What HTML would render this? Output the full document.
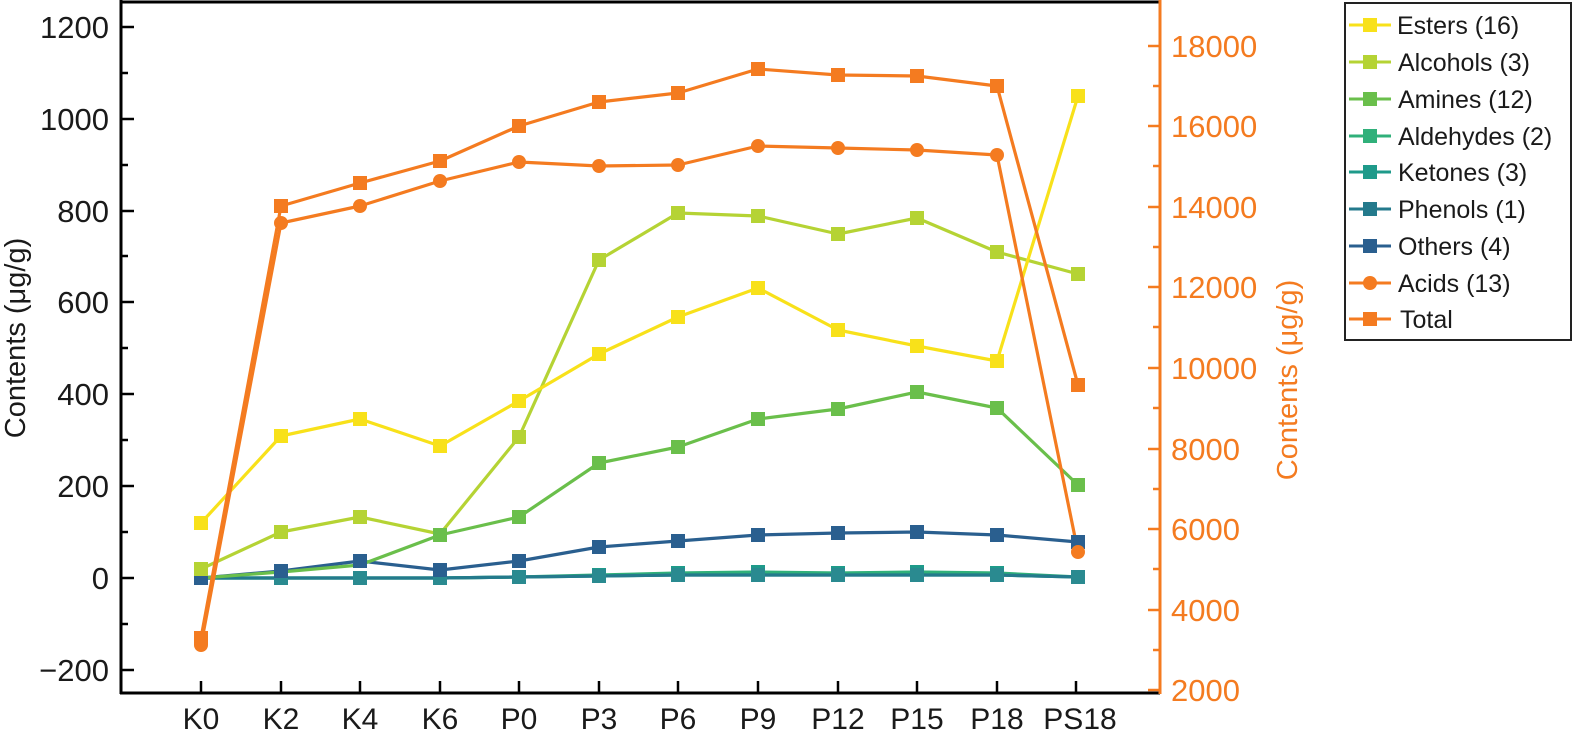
<!DOCTYPE html>
<html><head><meta charset="utf-8"><style>body{margin:0;background:#fff}svg{display:block}text{font-family:"Liberation Sans",sans-serif}</style></head><body>
<svg width="1573" height="735" viewBox="0 0 1573 735">
<line x1="121" y1="2" x2="1160" y2="2" stroke="#000" stroke-width="3"/>
<line x1="121" y1="0" x2="121" y2="694" stroke="#000" stroke-width="3"/>
<line x1="120" y1="693" x2="1160" y2="693" stroke="#000" stroke-width="3"/>
<line x1="1160" y1="0" x2="1160" y2="694" stroke="#f47b20" stroke-width="3"/>
<g stroke="#000" stroke-width="2.5">
<line x1="121" y1="27" x2="134" y2="27"/><line x1="121" y1="119" x2="134" y2="119"/><line x1="121" y1="211" x2="134" y2="211"/><line x1="121" y1="302" x2="134" y2="302"/><line x1="121" y1="394" x2="134" y2="394"/><line x1="121" y1="486" x2="134" y2="486"/><line x1="121" y1="578" x2="134" y2="578"/><line x1="121" y1="670" x2="134" y2="670"/>
<line x1="121" y1="73" x2="128" y2="73"/><line x1="121" y1="165" x2="128" y2="165"/><line x1="121" y1="256" x2="128" y2="256"/><line x1="121" y1="348" x2="128" y2="348"/><line x1="121" y1="440" x2="128" y2="440"/><line x1="121" y1="532" x2="128" y2="532"/><line x1="121" y1="624" x2="128" y2="624"/>
<line x1="201" y1="693" x2="201" y2="681"/><line x1="281" y1="693" x2="281" y2="681"/><line x1="360" y1="693" x2="360" y2="681"/><line x1="440" y1="693" x2="440" y2="681"/><line x1="519" y1="693" x2="519" y2="681"/><line x1="599" y1="693" x2="599" y2="681"/><line x1="678" y1="693" x2="678" y2="681"/><line x1="758" y1="693" x2="758" y2="681"/><line x1="838" y1="693" x2="838" y2="681"/><line x1="917" y1="693" x2="917" y2="681"/><line x1="997" y1="693" x2="997" y2="681"/><line x1="1076" y1="693" x2="1076" y2="681"/>
</g>
<g stroke="#f47b20" stroke-width="2.5">
<line x1="1160" y1="46" x2="1148" y2="46"/><line x1="1160" y1="126" x2="1148" y2="126"/><line x1="1160" y1="207" x2="1148" y2="207"/><line x1="1160" y1="287" x2="1148" y2="287"/><line x1="1160" y1="368" x2="1148" y2="368"/><line x1="1160" y1="449" x2="1148" y2="449"/><line x1="1160" y1="529" x2="1148" y2="529"/><line x1="1160" y1="610" x2="1148" y2="610"/><line x1="1160" y1="690" x2="1148" y2="690"/>
<line x1="1160" y1="86" x2="1153" y2="86"/><line x1="1160" y1="166" x2="1153" y2="166"/><line x1="1160" y1="247" x2="1153" y2="247"/><line x1="1160" y1="327" x2="1153" y2="327"/><line x1="1160" y1="408" x2="1153" y2="408"/><line x1="1160" y1="489" x2="1153" y2="489"/><line x1="1160" y1="569" x2="1153" y2="569"/><line x1="1160" y1="650" x2="1153" y2="650"/>
</g>
<g font-size="31" text-anchor="end" fill="#1a1a1a">
<text x="109" y="38">1200</text><text x="109" y="130">1000</text><text x="109" y="222">800</text><text x="109" y="313">600</text><text x="109" y="405">400</text><text x="109" y="497">200</text><text x="109" y="589">0</text><text x="109" y="681">−200</text>
</g>
<g font-size="31" fill="#f47b20">
<text x="1171" y="57">18000</text><text x="1171" y="137">16000</text><text x="1171" y="218">14000</text><text x="1171" y="298">12000</text><text x="1171" y="379">10000</text><text x="1171" y="460">8000</text><text x="1171" y="540">6000</text><text x="1171" y="621">4000</text><text x="1171" y="701">2000</text>
</g>
<g font-size="30" text-anchor="middle" fill="#1a1a1a">
<text x="201" y="729">K0</text><text x="281" y="729">K2</text><text x="360" y="729">K4</text><text x="440" y="729">K6</text><text x="519" y="729">P0</text><text x="599" y="729">P3</text><text x="678" y="729">P6</text><text x="758" y="729">P9</text><text x="838" y="729">P12</text><text x="917" y="729">P15</text><text x="997" y="729">P18</text><text x="1080" y="729">PS18</text>
</g>
<text transform="translate(25,338) rotate(-90)" font-size="29" text-anchor="middle" fill="#1a1a1a">Contents (μg/g)</text>
<text transform="translate(1297,380) rotate(-90)" font-size="29" text-anchor="middle" fill="#f47b20">Contents (μg/g)</text>
<g fill="none" stroke-width="3.2" stroke-linejoin="round">
<polyline stroke="#1e9a8a" points="201,578 281,578 360,578 440,578 519,577 599,576 678,575 758,575 838,575 917,575 997,575 1078,577"/>
<polyline stroke="#30b07a" points="201,578 281,578 360,578 440,578 519,577 599,575 678,573 758,572 838,573 917,572 997,573 1078,577"/>
<polyline stroke="#247a8c" points="201,578 281,578 360,578 440,578 519,577 599,576 678,575 758,575 838,575 917,575 997,575 1078,577"/>
<polyline stroke="#2a5f8f" points="201,578 281,571 360,561 440,570 519,561 599,547 678,541 758,535 838,533 917,532 997,535 1078,542"/>
<polyline stroke="#6abf4b" points="201,578 281,572 360,565 440,535 519,517 599,463 678,447 758,419 838,409 917,392 997,408 1078,485"/>
<polyline stroke="#b5d334" points="201,569 281,532 360,517 440,534 519,437 599,260 678,213 758,216 838,234 917,218 997,252 1078,274"/>
<polyline stroke="#f8e11a" points="201,523 281,436 360,419 440,446 519,401 599,354 678,317 758,288 838,330 917,346 997,361 1078,96"/>
<polyline stroke="#f47b20" points="201,645 281,223 360,206 440,181 519,162 599,166 678,165 758,146 838,148 917,150 997,155 1078,552"/>
<polyline stroke="#f47b20" points="201,638 281,206 360,183 440,161 519,126 599,102 678,93 758,69 838,75 917,76 997,86 1078,385"/>
</g>
<g fill="#1e9a8a"><rect x="194" y="571" width="14" height="14"/><rect x="274" y="571" width="14" height="14"/><rect x="353" y="571" width="14" height="14"/><rect x="433" y="571" width="14" height="14"/><rect x="512" y="570" width="14" height="14"/><rect x="592" y="568" width="14" height="14"/><rect x="671" y="566" width="14" height="14"/><rect x="751" y="565" width="14" height="14"/><rect x="831" y="566" width="14" height="14"/><rect x="910" y="565" width="14" height="14"/><rect x="990" y="566" width="14" height="14"/><rect x="1071" y="570" width="14" height="14"/></g>
<g fill="#2a8a90"><rect x="194" y="571" width="14" height="14"/><rect x="274" y="571" width="14" height="14"/><rect x="353" y="571" width="14" height="14"/><rect x="433" y="571" width="14" height="14"/><rect x="512" y="570" width="14" height="14"/><rect x="592" y="569" width="14" height="14"/><rect x="671" y="568" width="14" height="14"/><rect x="751" y="568" width="14" height="14"/><rect x="831" y="568" width="14" height="14"/><rect x="910" y="568" width="14" height="14"/><rect x="990" y="568" width="14" height="14"/><rect x="1071" y="570" width="14" height="14"/></g>
<g fill="#2a5f8f"><rect x="194" y="571" width="14" height="14"/><rect x="274" y="564" width="14" height="14"/><rect x="353" y="554" width="14" height="14"/><rect x="433" y="563" width="14" height="14"/><rect x="512" y="554" width="14" height="14"/><rect x="592" y="540" width="14" height="14"/><rect x="671" y="534" width="14" height="14"/><rect x="751" y="528" width="14" height="14"/><rect x="831" y="526" width="14" height="14"/><rect x="910" y="525" width="14" height="14"/><rect x="990" y="528" width="14" height="14"/><rect x="1071" y="535" width="14" height="14"/></g>
<g fill="#6abf4b"><rect x="433" y="528" width="14" height="14"/><rect x="512" y="510" width="14" height="14"/><rect x="592" y="456" width="14" height="14"/><rect x="671" y="440" width="14" height="14"/><rect x="751" y="412" width="14" height="14"/><rect x="831" y="402" width="14" height="14"/><rect x="910" y="385" width="14" height="14"/><rect x="990" y="401" width="14" height="14"/><rect x="1071" y="478" width="14" height="14"/></g>
<g fill="#b5d334"><rect x="194" y="562" width="14" height="14"/><rect x="274" y="525" width="14" height="14"/><rect x="353" y="510" width="14" height="14"/><rect x="512" y="430" width="14" height="14"/><rect x="592" y="253" width="14" height="14"/><rect x="671" y="206" width="14" height="14"/><rect x="751" y="209" width="14" height="14"/><rect x="831" y="227" width="14" height="14"/><rect x="910" y="211" width="14" height="14"/><rect x="990" y="245" width="14" height="14"/><rect x="1071" y="267" width="14" height="14"/></g>
<g fill="#f8e11a"><rect x="194" y="516" width="14" height="14"/><rect x="274" y="429" width="14" height="14"/><rect x="353" y="412" width="14" height="14"/><rect x="433" y="439" width="14" height="14"/><rect x="512" y="394" width="14" height="14"/><rect x="592" y="347" width="14" height="14"/><rect x="671" y="310" width="14" height="14"/><rect x="751" y="281" width="14" height="14"/><rect x="831" y="323" width="14" height="14"/><rect x="910" y="339" width="14" height="14"/><rect x="990" y="354" width="14" height="14"/><rect x="1071" y="89" width="14" height="14"/></g>
<g fill="#f47b20"><circle cx="201" cy="645" r="7"/><circle cx="281" cy="223" r="7"/><circle cx="360" cy="206" r="7"/><circle cx="440" cy="181" r="7"/><circle cx="519" cy="162" r="7"/><circle cx="599" cy="166" r="7"/><circle cx="678" cy="165" r="7"/><circle cx="758" cy="146" r="7"/><circle cx="838" cy="148" r="7"/><circle cx="917" cy="150" r="7"/><circle cx="997" cy="155" r="7"/><circle cx="1078" cy="552" r="7"/>
<rect x="194" y="631" width="14" height="14"/><rect x="274" y="199" width="14" height="14"/><rect x="353" y="176" width="14" height="14"/><rect x="433" y="154" width="14" height="14"/><rect x="512" y="119" width="14" height="14"/><rect x="592" y="95" width="14" height="14"/><rect x="671" y="86" width="14" height="14"/><rect x="751" y="62" width="14" height="14"/><rect x="831" y="68" width="14" height="14"/><rect x="910" y="69" width="14" height="14"/><rect x="990" y="79" width="14" height="14"/><rect x="1071" y="378" width="14" height="14"/></g>
<rect x="1345" y="3" width="226" height="337" fill="#fff" stroke="#222" stroke-width="2"/>
<g font-size="25" fill="#1a1a1a" stroke-width="3">
<line x1="1349" y1="25" x2="1391" y2="25" stroke="#f8e11a"/><rect x="1363" y="18" width="14" height="14" fill="#f8e11a"/><text x="1397" y="34">Esters (16)</text>
<line x1="1349" y1="62" x2="1391" y2="62" stroke="#b5d334"/><rect x="1363" y="55" width="14" height="14" fill="#b5d334"/><text x="1398" y="71">Alcohols (3)</text>
<line x1="1349" y1="99" x2="1391" y2="99" stroke="#6abf4b"/><rect x="1363" y="92" width="14" height="14" fill="#6abf4b"/><text x="1398" y="108">Amines (12)</text>
<line x1="1349" y1="136" x2="1391" y2="136" stroke="#30b07a"/><rect x="1363" y="129" width="14" height="14" fill="#30b07a"/><text x="1398" y="145">Aldehydes (2)</text>
<line x1="1349" y1="172" x2="1391" y2="172" stroke="#1e9a8a"/><rect x="1363" y="165" width="14" height="14" fill="#1e9a8a"/><text x="1398" y="181">Ketones (3)</text>
<line x1="1349" y1="209" x2="1391" y2="209" stroke="#247a8c"/><rect x="1363" y="202" width="14" height="14" fill="#247a8c"/><text x="1398" y="218">Phenols (1)</text>
<line x1="1349" y1="246" x2="1391" y2="246" stroke="#2a5f8f"/><rect x="1363" y="239" width="14" height="14" fill="#2a5f8f"/><text x="1398" y="255">Others (4)</text>
<line x1="1349" y1="283" x2="1391" y2="283" stroke="#f47b20"/><circle cx="1370" cy="283" r="7" fill="#f47b20"/><text x="1398" y="292">Acids (13)</text>
<line x1="1349" y1="319" x2="1391" y2="319" stroke="#f47b20"/><rect x="1363" y="312" width="14" height="14" fill="#f47b20"/><text x="1400" y="328">Total</text>
</g>
</svg>
</body></html>
